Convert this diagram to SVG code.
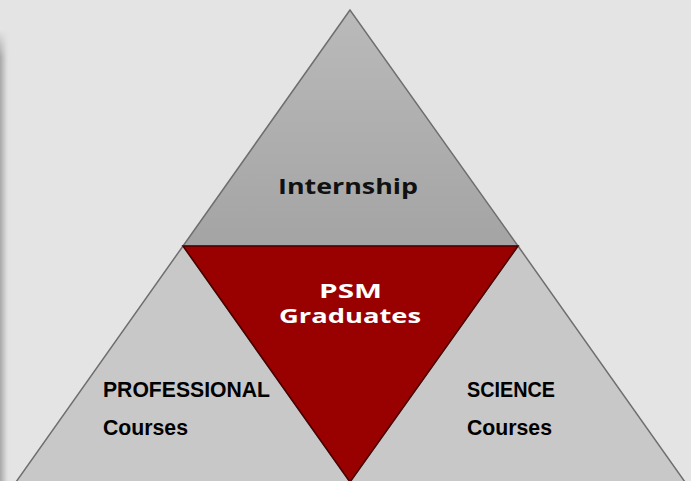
<svg xmlns="http://www.w3.org/2000/svg" width="691" height="481" viewBox="0 0 691 481">
<defs>
<linearGradient id="topg" x1="0" y1="0" x2="0" y2="1">
<stop offset="0" stop-color="#bababa"/>
<stop offset="1" stop-color="#a4a4a4"/>
</linearGradient>
<linearGradient id="shadow" x1="0" y1="0" x2="1" y2="0">
<stop offset="0" stop-color="#a8a8a8"/>
<stop offset="0.5" stop-color="#cfcfcf"/>
<stop offset="1" stop-color="#e4e4e4" stop-opacity="0"/>
</linearGradient>
<linearGradient id="shfade" x1="0" y1="0" x2="0" y2="1">
<stop offset="0" stop-color="#fff" stop-opacity="0"/>
<stop offset="0.06" stop-color="#fff" stop-opacity="1"/>
<stop offset="1" stop-color="#fff" stop-opacity="1"/>
</linearGradient>
<mask id="m"><rect x="0" y="30" width="12" height="451" fill="url(#shfade)"/></mask>
</defs>
<style>
.side{fill:#c8c8c8;stroke:#6e6e6e;stroke-width:1.5}
.dark{font-family:"Open Sans","DejaVu Sans",sans-serif;font-weight:bold;fill:#111}
.lbl{font-family:"Liberation Sans",Arial,sans-serif;font-weight:bold;fill:#000;font-size:22px}
.white{font-family:"Open Sans","DejaVu Sans",sans-serif;font-weight:bold;fill:#fff;font-size:20px}
</style>
<rect width="691" height="481" fill="#e4e4e4"/>
<rect x="0" y="30" width="10" height="451" fill="url(#shadow)" mask="url(#m)"/>
<g id="top">
<polygon points="350,10 183,246 518,246" fill="url(#topg)" stroke="#6e6e6e" stroke-width="1.5"/>
<text class="dark" x="348" y="194" font-size="22" text-anchor="middle" textLength="140" lengthAdjust="spacingAndGlyphs">Internship</text>
</g>
<g id="left">
<polygon class="side" points="183,246 350,482 16,482"/>
<text class="lbl" x="103" y="397" textLength="167" lengthAdjust="spacingAndGlyphs">PROFESSIONAL</text>
<text class="lbl" x="103" y="435" textLength="85" lengthAdjust="spacingAndGlyphs">Courses</text>
</g>
<g id="right">
<polygon class="side" points="518,246 685,482 350,482"/>
<text class="lbl" x="467" y="397" textLength="88" lengthAdjust="spacingAndGlyphs">SCIENCE</text>
<text class="lbl" x="467" y="435" textLength="85" lengthAdjust="spacingAndGlyphs">Courses</text>
</g>
<g id="center">
<polygon points="183,246 518,246 350,482" fill="#990000" stroke="#4a0000" stroke-width="1.5"/>
<text class="white" x="350.5" y="298" text-anchor="middle" textLength="63" lengthAdjust="spacingAndGlyphs">PSM</text>
<text class="white" x="350" y="323" text-anchor="middle" textLength="142" lengthAdjust="spacingAndGlyphs">Graduates</text>
</g>
<g id="connectors"/>
</svg>
